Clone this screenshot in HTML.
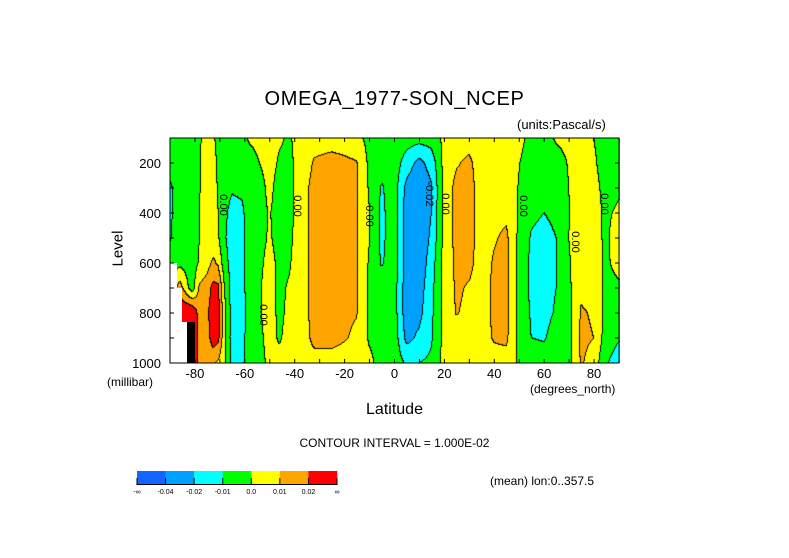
<!DOCTYPE html>
<html><head><meta charset="utf-8"><style>
body{margin:0;background:#fff;}
#wrap{position:relative;width:789px;height:558px;overflow:hidden;background:#fff;font-family:"Liberation Sans",sans-serif;}
.t{position:absolute;white-space:nowrap;color:#000;}
canvas{position:absolute;left:170px;top:138px;}
svg{position:absolute;left:0;top:0;}
</style></head><body>
<div id="wrap">
<div class="t" style="left:0;width:789px;text-align:center;top:88px;font-size:20px;letter-spacing:0.7px;">OMEGA_1977-SON_NCEP</div>
<div class="t" style="left:517px;top:117px;font-size:13px;">(units:Pascal/s)</div>
<canvas id="cv" width="450" height="225"></canvas>
<svg id="sv" width="789" height="558"></svg>
<div class="t" style="left:98px;top:240px;font-size:15px;transform:rotate(-90deg);transform-origin:center;width:40px;text-align:center;">Level</div>
<div class="t" style="left:107px;top:375px;font-size:12px;">(millibar)</div>
<div class="t" style="left:530px;top:382px;font-size:12px;">(degrees_north)</div>
<div class="t" style="left:0;width:789px;text-align:center;top:401px;font-size:16px;">Latitude</div>
<div class="t" style="left:0;width:789px;text-align:center;top:436px;font-size:12px;">CONTOUR INTERVAL = 1.000E-02</div>
<div class="t" style="left:490px;top:474px;font-size:12px;">(mean) lon:0..357.5</div>
</div>
<script>
// data in units of 0.01 Pa/s; rows = latitudes, values top (100mb) -> bottom (1000mb)
const lats=[-90,-86,-81,-78,-75,-72.5,-70.5,-68,-65,-61,-58,-54,-50,-46,-42,-38,-35,-32,-25,-20,-15,-10,-5,0,5,10,15,20,25,30,35,40,45,50,55,60,65,70,75,80,85,90];
const levels=[100,200,300,400,500,600,700,800,900,1000];
const omega=[
[-0.3,-0.5,-1.2,-1.2,-1.1,-0.5,-0.4,-0.4,-0.4,-0.4],
[-0.4,-0.4,-0.5,-0.5,-0.4,-0.3,1.5,3.0,4.0,4.0],
[-0.3,-0.3,-0.3,-0.4,-0.4,-0.5,-0.6,3.0,4.5,4.5],
[-0.1,-0.05,-0.05,0.0,0.0,0.1,1.2,1.5,1.2,1.0],
[0.3,0.5,0.5,0.5,0.5,0.6,1.5,1.8,1.5,1.2],
[0.1,0.2,0.2,0.3,0.3,1.2,2.3,2.6,2.6,1.1],
[-0.2,-0.1,-0.05,0.0,0.1,0.8,2.2,2.4,2.3,0.8],
[-0.3,-0.4,-0.6,-0.8,-0.9,-0.6,0.0,0.3,0.2,0.2],
[-0.3,-0.6,-0.9,-1.3,-1.4,-1.4,-1.4,-1.4,-1.4,-1.2],
[-0.2,-0.6,-0.8,-1.2,-1.3,-1.3,-1.3,-1.6,-1.3,-1.2],
[0.1,-0.3,-0.5,-0.5,-0.5,-0.5,-0.5,-0.5,-0.5,-0.5],
[0.2,0.0,-0.3,-0.3,-0.3,-0.2,-0.1,-0.1,-0.2,-0.3],
[0.4,0.3,0.2,0.05,0.1,0.3,0.4,0.4,0.3,0.2],
[0.1,-0.1,-0.3,-0.3,-0.3,-0.2,-0.2,-0.2,-0.1,0.3],
[-0.1,-0.2,-0.3,-0.3,-0.2,-0.1,0.1,0.2,0.3,0.3],
[0.3,0.3,0.4,0.4,0.4,0.5,0.5,0.5,0.5,0.4],
[0.5,0.7,0.9,0.9,0.9,0.9,0.9,0.9,0.8,0.5],
[0.6,1.1,1.3,1.3,1.3,1.3,1.3,1.3,1.3,0.6],
[0.6,1.3,1.5,1.5,1.5,1.5,1.5,1.5,1.3,0.6],
[0.5,1.2,1.3,1.3,1.3,1.3,1.3,1.2,1.1,0.5],
[0.3,1.05,1.1,1.1,1.1,1.1,1.1,1.05,0.8,0.3],
[-0.3,-0.2,-0.1,0.05,0.05,-0.1,-0.2,-0.2,-0.1,0.2],
[-0.3,-0.6,-1.1,-1.2,-1.2,-1.1,-0.5,-0.4,-0.3,-0.3],
[-0.3,-0.4,-0.5,-0.5,-0.5,-0.5,-0.5,-0.5,-0.4,-0.3],
[-0.5,-1.5,-2.3,-2.5,-2.5,-2.5,-2.6,-2.6,-2.3,-1.2],
[-0.6,-2.3,-2.8,-2.8,-2.8,-2.7,-2.5,-2.3,-1.8,-1.0],
[-0.5,-1.6,-2.1,-2.0,-1.8,-1.5,-1.3,-1.2,-1.1,-0.8],
[0.2,0.3,0.3,0.3,0.3,0.3,0.3,0.3,0.3,0.3],
[0.5,0.9,1.3,1.3,1.3,1.2,1.15,1.05,0.6,0.4],
[0.6,1.2,1.4,1.4,1.4,1.3,0.9,0.8,0.6,0.5],
[0.5,0.5,0.5,0.5,0.5,0.5,0.5,0.5,0.5,0.5],
[0.4,0.5,0.6,0.7,0.9,1.1,1.2,1.2,1.1,0.6],
[0.4,0.5,0.6,0.8,1.2,1.3,1.3,1.3,1.2,0.6],
[0.3,0.05,-0.05,-0.1,-0.2,-0.3,-0.3,-0.3,-0.3,-0.1],
[-0.3,-0.5,-0.6,-0.8,-1.1,-1.2,-1.2,-1.1,-1.0,-0.5],
[-0.3,-0.6,-0.8,-1.0,-1.3,-1.3,-1.3,-1.3,-1.1,-0.5],
[0.1,-0.3,-0.5,-0.8,-1.0,-1.0,-1.0,-0.9,-0.6,-0.3],
[0.2,0.05,0.0,-0.05,0.0,-0.1,-0.2,-0.3,-0.3,-0.3],
[0.5,0.5,0.5,0.5,0.5,0.6,0.8,1.1,1.2,1.1],
[0.0,0.1,0.2,0.2,0.2,0.3,0.5,0.9,1.0,0.6],
[-0.3,-0.3,-0.2,-0.1,-0.1,-0.1,-0.2,-0.3,-0.5,-0.9],
[-0.3,-0.2,-0.1,0.1,0.3,0.2,-0.1,-0.4,-0.9,-1.5]
];
const bounds=[-4,-2,-1,0,1,2];
const colors=[[20,100,255],[0,160,255],[0,255,255],[0,255,0],[255,255,0],[255,165,0],[255,0,0]];
const barLabels=["-∞","-0.04","-0.02","-0.01","0.0","0.01","0.02","∞"];
const xTicks=[-80,-60,-40,-20,0,20,40,60,80];
const yTicks=[200,400,600,800,1000];

const PX=170,PY=138,PW=449,PH=225;
const xScale=lat=>PX+(lat+90)/180*PW;
const yScale=p=>PY+(p-100)/900*PH;
function val(lat,p){
  let i=0;while(i<lats.length-2&&lat>lats[i+1])i++;
  let a=(lat-lats[i])/(lats[i+1]-lats[i]);a=Math.max(0,Math.min(1,a));
  let fj=(p-levels[0])/100; fj=Math.max(0,Math.min(levels.length-1.0001,fj));
  const j=Math.floor(fj),b=fj-j;
  return omega[i][j]*(1-a)*(1-b)+omega[i+1][j]*a*(1-b)+omega[i][j+1]*(1-a)*b+omega[i+1][j+1]*a*b;
}
function cls(v){if(v>=3.6)return 7;let k=0;while(k<bounds.length&&v>=bounds[k])k++;return k;}
const cv=document.getElementById('cv'),ctx=cv.getContext('2d');
const W=cv.width,H=cv.height,img=ctx.createImageData(W,H);
const C=[];
for(let y=0;y<H;y++){C.push([]);for(let x=0;x<W;x++){
  const lat=(x+0.5)/PW*180-90,p=100+(y+0.5)/PH*900;C[y].push(cls(val(lat,p)));}}
for(let y=0;y<H;y++)for(let x=0;x<W;x++){
  const k=C[y][x];let c=k===7?[0,0,0]:colors[k];
  if((x+1<W&&C[y][x+1]!==k)||(y+1<H&&C[y+1][x]!==k))c=[0,0,0];
  const o=(y*W+x)*4;img.data[o]=c[0];img.data[o+1]=c[1];img.data[o+2]=c[2];img.data[o+3]=255;}
ctx.putImageData(img,0,0);

const NS='http://www.w3.org/2000/svg',sv=document.getElementById('sv');
function mk(t,a,txt){const e=document.createElementNS(NS,t);for(const k in a)e.setAttribute(k,a[k]);if(txt!==undefined)e.textContent=txt;sv.appendChild(e);return e;}
let m=mk('polygon',{points:'170,263 177,263 177,288 182,288 182,322 187,322 187,363 170,363',fill:'#fff'});


m=mk('rect',{x:187,y:322,width:8,height:41,fill:'#000'});


let fr=mk('rect',{x:PX,y:PY,width:PW,height:PH,fill:'none',stroke:'#000','stroke-width':1});


for(let lat=-90;lat<=90;lat+=10){const x=xScale(lat);
  mk('line',{x1:x,x2:x,y1:PY+PH,y2:PY+PH-4,stroke:'#000'});mk('line',{x1:x,x2:x,y1:PY,y2:PY+4,stroke:'#000'});}
for(let p=100;p<=1000;p+=100){const y=yScale(p);
  mk('line',{x1:PX,x2:PX+4,y1:y,y2:y,stroke:'#000'});mk('line',{x1:PX+PW,x2:PX+PW-4,y1:y,y2:y,stroke:'#000'});}
xTicks.forEach(v=>{const t=mk('text',{x:xScale(v),y:378,'text-anchor':'middle','font-size':13,'font-family':'Liberation Sans, sans-serif'},String(v));
  
  });
yTicks.forEach(v=>{const t=mk('text',{x:161,y:yScale(v)+5,'text-anchor':'end','font-size':13,'font-family':'Liberation Sans, sans-serif'},String(v));
  
  });
[[220,205,'0.00'],[294,206,'0.00'],[366,216,'0.00'],[260,315,'0.00'],[426,194,'-0.02'],[442,204,'0.00'],[520,206,'0.00'],[572,242,'0.00'],[601,204,'0.00']].forEach(l=>{
  const t=mk('text',{x:l[0],y:l[1],'text-anchor':'middle','font-size':11,'font-family':'Liberation Sans, sans-serif',transform:`rotate(90 ${l[0]} ${l[1]})`},l[2]);
  
  });
const bx=137,bw=200/7;
colors.forEach((c,i)=>{const r=mk('rect',{x:bx+i*bw,y:471,width:bw+0.3,height:13,fill:`rgb(${c})`});
  
  });
mk('line',{x1:bx,x2:bx+200,y1:484.5,y2:484.5,stroke:'#000'});
barLabels.forEach((s,i)=>{const x=bx+i*bw;mk('line',{x1:x,x2:x,y1:478,y2:485,stroke:'#000'});
  const t=mk('text',{x:x,y:494,'text-anchor':'middle','font-size':7,'font-family':'Liberation Sans, sans-serif'},s);
  
  });
</script>
</body></html>
